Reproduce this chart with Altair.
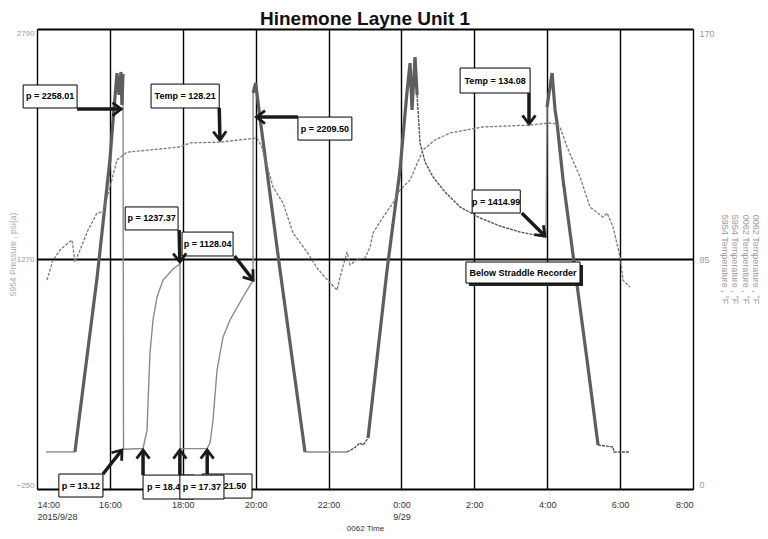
import math
import altair as alt
import pandas as pd

TITLE = "Hinemone Layne Unit 1"
SANS = "Liberation Sans, Arial"

# ---- axes -------------------------------------------------------------
X_TICKS = [0, 2, 4, 6, 8, 10, 12, 14, 16, 18]          # hours since 14:00 on 2015/9/28
X_TICK_LABELS = ["14:00", "16:00", "18:00", "20:00", "22:00", "0:00", "2:00", "4:00", "6:00", "8:00"]
X_TICK_DATES = {0: "2015/9/28", 10: "9/29"}
P_TICKS = [-250, 1270, 2790]
T_TICKS = [0, 85, 170]
X_DOMAIN = [0, 18]
P_DOMAIN = [-250, 2790]
T_DOMAIN = [0, 170]

# ---- pressure trace (hours, psi) ---------------------------------------
THIN_1_H = [0.25, 1.04]
THIN_1_P = [-5, -5]
RAMP_1_H = [1.04, 1.65, 2.00, 2.11, 2.195, 2.25, 2.305, 2.33, 2.36]
RAMP_1_P = [-5, 1151, 1924, 2255, 2499, 2354, 2506, 2288, 2493]
THIN_2_H = [2.36, 2.374, 2.91, 3.02, 3.046, 3.10, 3.183, 3.293, 3.458, 3.732, 3.924, 3.93,
            4.665, 4.748, 4.83, 4.94, 5.104, 5.296, 5.653, 5.927, 5.93]
THIN_2_P = [2493, 13, 18, 140, 318, 649, 867, 1019, 1131, 1204, 1237, 18,
            17, 54, 206, 536, 754, 867, 1019, 1128, 2367]
RAMP_2_H = [5.93, 6.0, 6.12, 6.668, 7.354]
RAMP_2_P = [2367, 2433, 2200, 1197, -5]
THIN_3_H = [7.354, 8.507]
THIN_3_P = [-5, -5]
DASH_1_H = [8.507, 8.70, 8.864, 8.95, 9.083]
DASH_1_P = [-5, 20, 54, 40, 87]
RAMP_3_H = [9.083, 9.605, 9.96, 10.15, 10.236, 10.29, 10.373, 10.43]
RAMP_3_P = [87, 1197, 1858, 2367, 2565, 2255, 2605, 2354]
DASH_2_H = [10.43, 10.51, 10.648, 10.867, 11.196, 11.608, 12.157, 12.706, 13.255, 13.968]
DASH_2_P = [2354, 2037, 1911, 1812, 1713, 1614, 1541, 1488, 1448, 1415]
THIN_4_H = [13.968, 13.995]
THIN_4_P = [1415, 2274]
RAMP_4_H = [13.995, 14.133, 14.215, 14.27, 14.435, 15.093, 15.395]
RAMP_4_P = [2274, 2499, 2255, 2169, 1792, 602, 41]
DASH_3_H = [15.395, 15.807, 15.83, 16.27]
DASH_3_P = [41, 27, -5, -5]

# ---- temperature trace (hours, degF) -------------------------------------
T_H = [0.274, 0.439, 0.63, 0.851, 0.96, 1.043, 1.18, 1.40, 1.647, 1.81, 2.003, 2.195, 2.47,
       3.10, 3.924, 4.199, 5.022, 6.037, 6.17, 6.476, 6.75, 7.025, 7.409, 7.684, 7.90, 8.232,
       8.315, 8.507, 8.59, 8.81, 9.0, 9.14, 9.22, 9.495, 9.77, 9.961, 10.236, 10.593, 10.92,
       11.334, 12.239, 13.529, 14.078, 14.24, 14.35, 14.544, 14.9, 15.175, 15.532, 15.642,
       15.807, 16.0, 16.08, 16.27]
T_V = [77.2, 84.6, 88.3, 90.9, 92.0, 83.9, 88.3, 95.7, 102.0, 102.4, 111.6, 121.6, 124.5,
       125.3, 126.4, 127.9, 128.2, 129.7, 126.4, 111.6, 105.7, 94.6, 87.6, 81.7, 78.3, 73.5,
       78.3, 87.6, 82.8, 85.0, 85.4, 89.4, 94.6, 100.5, 105.7, 110.5, 114.2, 125.3, 129.0,
       131.6, 133.8, 134.5, 135.3, 134.9, 133.8, 126.4, 115.3, 104.2, 100.5, 102.0,
       96.8, 85.7, 77.2, 74.6]

# ---- annotations: text, box (h1, h2, p1, p2), arrow (h_from, p_from, h_to, p_to) ----
ANN_TEXT = ["p = 2258.01", "Temp = 128.21", "p = 2209.50", "Temp = 134.08", "p = 1237.37",
            "p = 1128.04", "p = 1414.99", "Below Straddle Recorder", "p = 13.12",
            "p = 18.47", "p = 21.50", "p = 17.37"]
ANN_BOX = [(-0.38, 1.10, 2268, 2420), (3.13, 5.00, 2268, 2426), (7.16, 8.64, 2056, 2208),
           (11.61, 13.53, 2367, 2532), (2.42, 3.87, 1462, 1614), (3.98, 5.38, 1290, 1448),
           (11.94, 13.26, 1574, 1726), (11.77, 14.90, 1111, 1250), (0.60, 1.81, -303, -151),
           (2.91, 4.31, -316, -158), (4.53, 5.90, -310, -151), (3.92, 5.13, -316, -158)]
ANN_ARROW = [(1.10, 2261, 2.31, 2261), (5.00, 2268, 5.02, 2056), (7.16, 2208, 6.02, 2208),
             (13.50, 2367, 13.50, 2162), (3.90, 1462, 3.92, 1250), (5.42, 1290, 5.93, 1131),
             (13.30, 1574, 13.94, 1422), None, (1.81, -151, 2.33, 8),
             (2.91, -158, 2.91, 8), (4.67, -151, 4.67, 8), (3.92, -158, 3.92, 8)]
ANN_SHADOW = [False, False, False, False, False, False, False, True, False, False, False, False]
# label 10 is partly hidden behind the next box in the original: show only its visible width
ANN_LIMIT = [0, 0, 0, 0, 0, 0, 0, 0, 0, 38, 0, 0]

# ---- encodings ---------------------------------------------------------------
parts = []
for v, lab in zip(X_TICKS, X_TICK_LABELS):
    if v in X_TICK_DATES:
        parts.append(f"datum.value == {v} ? ['{lab}', '{X_TICK_DATES[v]}']")
    else:
        parts.append(f"datum.value == {v} ? '{lab}'")
label_expr = " : ".join(parts) + " : ''"

x_scale = alt.Scale(domain=X_DOMAIN, nice=False, zero=False)
p_scale = alt.Scale(domain=P_DOMAIN, nice=False, zero=False)
t_scale = alt.Scale(domain=T_DOMAIN, nice=False, zero=False)

x_axis = alt.Axis(values=X_TICKS, labelExpr=label_expr, title="0062 Time", grid=True,
                  gridColor="black", gridWidth=1.4, gridOpacity=1, ticks=False, domain=False,
                  labelFlush=True, labelColor="#333", labelFontSize=9, labelFont=SANS,
                  labelLineHeight=12, labelPadding=11, titleFont=SANS, titleFontSize=8,
                  titleFontWeight="normal", titleColor="#333", titlePadding=3)
p_axis = alt.Axis(values=P_TICKS, format="d", title="5954 Pressure , psi(a)", grid=True,
                  gridColor="black", gridWidth=2, gridOpacity=1, ticks=False, domain=False,
                  labelFlush=True, labelColor="#999", labelFontSize=8, labelFont=SANS,
                  labelPadding=3, titleFont=SANS, titleFontSize=8.5, titleFontWeight="normal",
                  titleColor="#aaa", titleX=-20, titleY=225)
t_axis = alt.Axis(orient="right", values=T_TICKS, format="d",
                  title=["0062 Temperature , °F", "0062 Temperature , °F",
                         "5954 Temperature , °F", "5954 Temperature , °F"],
                  titleAngle=90, grid=False, ticks=False, domain=False, labelFlush=True,
                  labelColor="#999", labelFontSize=9, labelFont=SANS, labelPadding=6,
                  titleFont=SANS, titleFontSize=9, titleFontWeight="normal", titleColor="#999",
                  titlePadding=5, titleLineHeight=10.5)


def X(field="h"):
    return alt.X(f"{field}:Q", scale=x_scale, axis=x_axis)


def Y(field="p"):
    return alt.Y(f"{field}:Q", scale=p_scale, axis=p_axis)


def segs(pairs):
    rows = []
    for i, (hs, ps) in enumerate(pairs):
        for h, p in zip(hs, ps):
            rows.append({"h": h, "p": p, "seg": i})
    return pd.DataFrame(rows)


thin_df = segs([(THIN_1_H, THIN_1_P), (THIN_2_H, THIN_2_P), (THIN_3_H, THIN_3_P), (THIN_4_H, THIN_4_P)])
ramp_df = segs([(RAMP_1_H, RAMP_1_P), (RAMP_2_H, RAMP_2_P), (RAMP_3_H, RAMP_3_P), (RAMP_4_H, RAMP_4_P)])
dash_df = segs([(DASH_1_H, DASH_1_P), (DASH_2_H, DASH_2_P), (DASH_3_H, DASH_3_P)])

thin_layer = alt.Chart(thin_df).mark_line(color="#8a8a8a", strokeWidth=1.4).encode(
    x=X(), y=Y(), detail="seg:N", order="h:Q")
ramp_layer = alt.Chart(ramp_df).mark_line(color="#5e5e5e", strokeWidth=3.2).encode(
    x=X(), y=Y(), detail="seg:N", order="h:Q")
dash_layer = alt.Chart(dash_df).mark_line(color="#555", strokeWidth=1.4, strokeDash=[3, 1]).encode(
    x=X(), y=Y(), detail="seg:N", order="h:Q")

# annotation boxes + texts
ann_layers = []
for text, (h1, h2, p1, p2), shadow, lim in zip(ANN_TEXT, ANN_BOX, ANN_SHADOW, ANN_LIMIT):
    bdf = pd.DataFrame([{"h": h1, "h2": h2, "p": p1, "p2": p2, "hc": (h1 + h2) / 2,
                         "pc": (p1 + p2) / 2, "label": text}])
    base = alt.Chart(bdf)
    if shadow:
        ann_layers.append(base.mark_rect(color="#222", xOffset=3, x2Offset=3, yOffset=3,
                                         y2Offset=3).encode(
            x=X(), x2="h2:Q", y=Y(), y2="p2:Q"))
    ann_layers.append(base.mark_rect(fill="white", stroke="black", strokeWidth=1).encode(
        x=X(), x2="h2:Q", y=Y(), y2="p2:Q"))
    if lim:
        ann_layers.append(base.mark_text(font=SANS, fontWeight="bold", fontSize=9,
                                         color="black", align="left", dx=4, limit=lim,
                                         ellipsis="\u200b").encode(
            x=X("h"), y=Y("pc"), text="label:N"))
    else:
        ann_layers.append(base.mark_text(font=SANS, fontWeight="bold", fontSize=9,
                                         color="black").encode(
            x=X("hc"), y=Y("pc"), text="label:N"))

# arrows
PX_PER_H = 656 / (X_DOMAIN[1] - X_DOMAIN[0])
PX_PER_P = 460 / (P_DOMAIN[1] - P_DOMAIN[0])
arrow_rows = []
for a in ANN_ARROW:
    if a is None:
        continue
    h0, p0, h1, p1 = a
    dx = (h1 - h0) * PX_PER_H
    dy = -(p1 - p0) * PX_PER_P
    ang = math.degrees(math.atan2(dx, -dy)) % 360
    arrow_rows.append({"h": h0, "p": p0, "h2": h1, "p2": p1, "ang": ang})
arrow_df = pd.DataFrame(arrow_rows)
shaft_layer = alt.Chart(arrow_df).mark_rule(color="#1a1a1a", strokeWidth=3.5).encode(
    x=X(), x2="h2:Q", y=Y(), y2="p2:Q")
head_layer = alt.Chart(arrow_df).mark_point(
    shape="M -0.75 1 L 0 0 L 0.75 1", filled=False, stroke="#1a1a1a", strokeWidth=2.8,
    size=300, opacity=1).encode(
    x=X("h2"), y=Y("p2"), angle=alt.Angle("ang:Q", scale=None))

left = alt.layer(thin_layer, ramp_layer, dash_layer, *ann_layers, shaft_layer, head_layer)

temp_df = pd.DataFrame({"h": T_H, "t": T_V})
temp_layer = alt.Chart(temp_df).mark_line(color="#7a7a7a", strokeWidth=1.3,
                                           strokeDash=[3, 1.5]).encode(
    x=X(), y=alt.Y("t:Q", scale=t_scale, axis=t_axis), order="h:Q")

chart = alt.layer(left, temp_layer).resolve_scale(y="independent").properties(
    width=656, height=460,
    title=alt.TitleParams(TITLE, font=SANS, fontSize=19, fontWeight="bold", color="#111",
                          anchor="middle", offset=0),
    autosize="none",
    padding={"left": 29, "top": 21, "right": 67, "bottom": 42},
).configure_view(stroke="black", strokeWidth=2).configure(background="white")

chart.save("out.html", embed_options={"renderer": "svg", "actions": False})
